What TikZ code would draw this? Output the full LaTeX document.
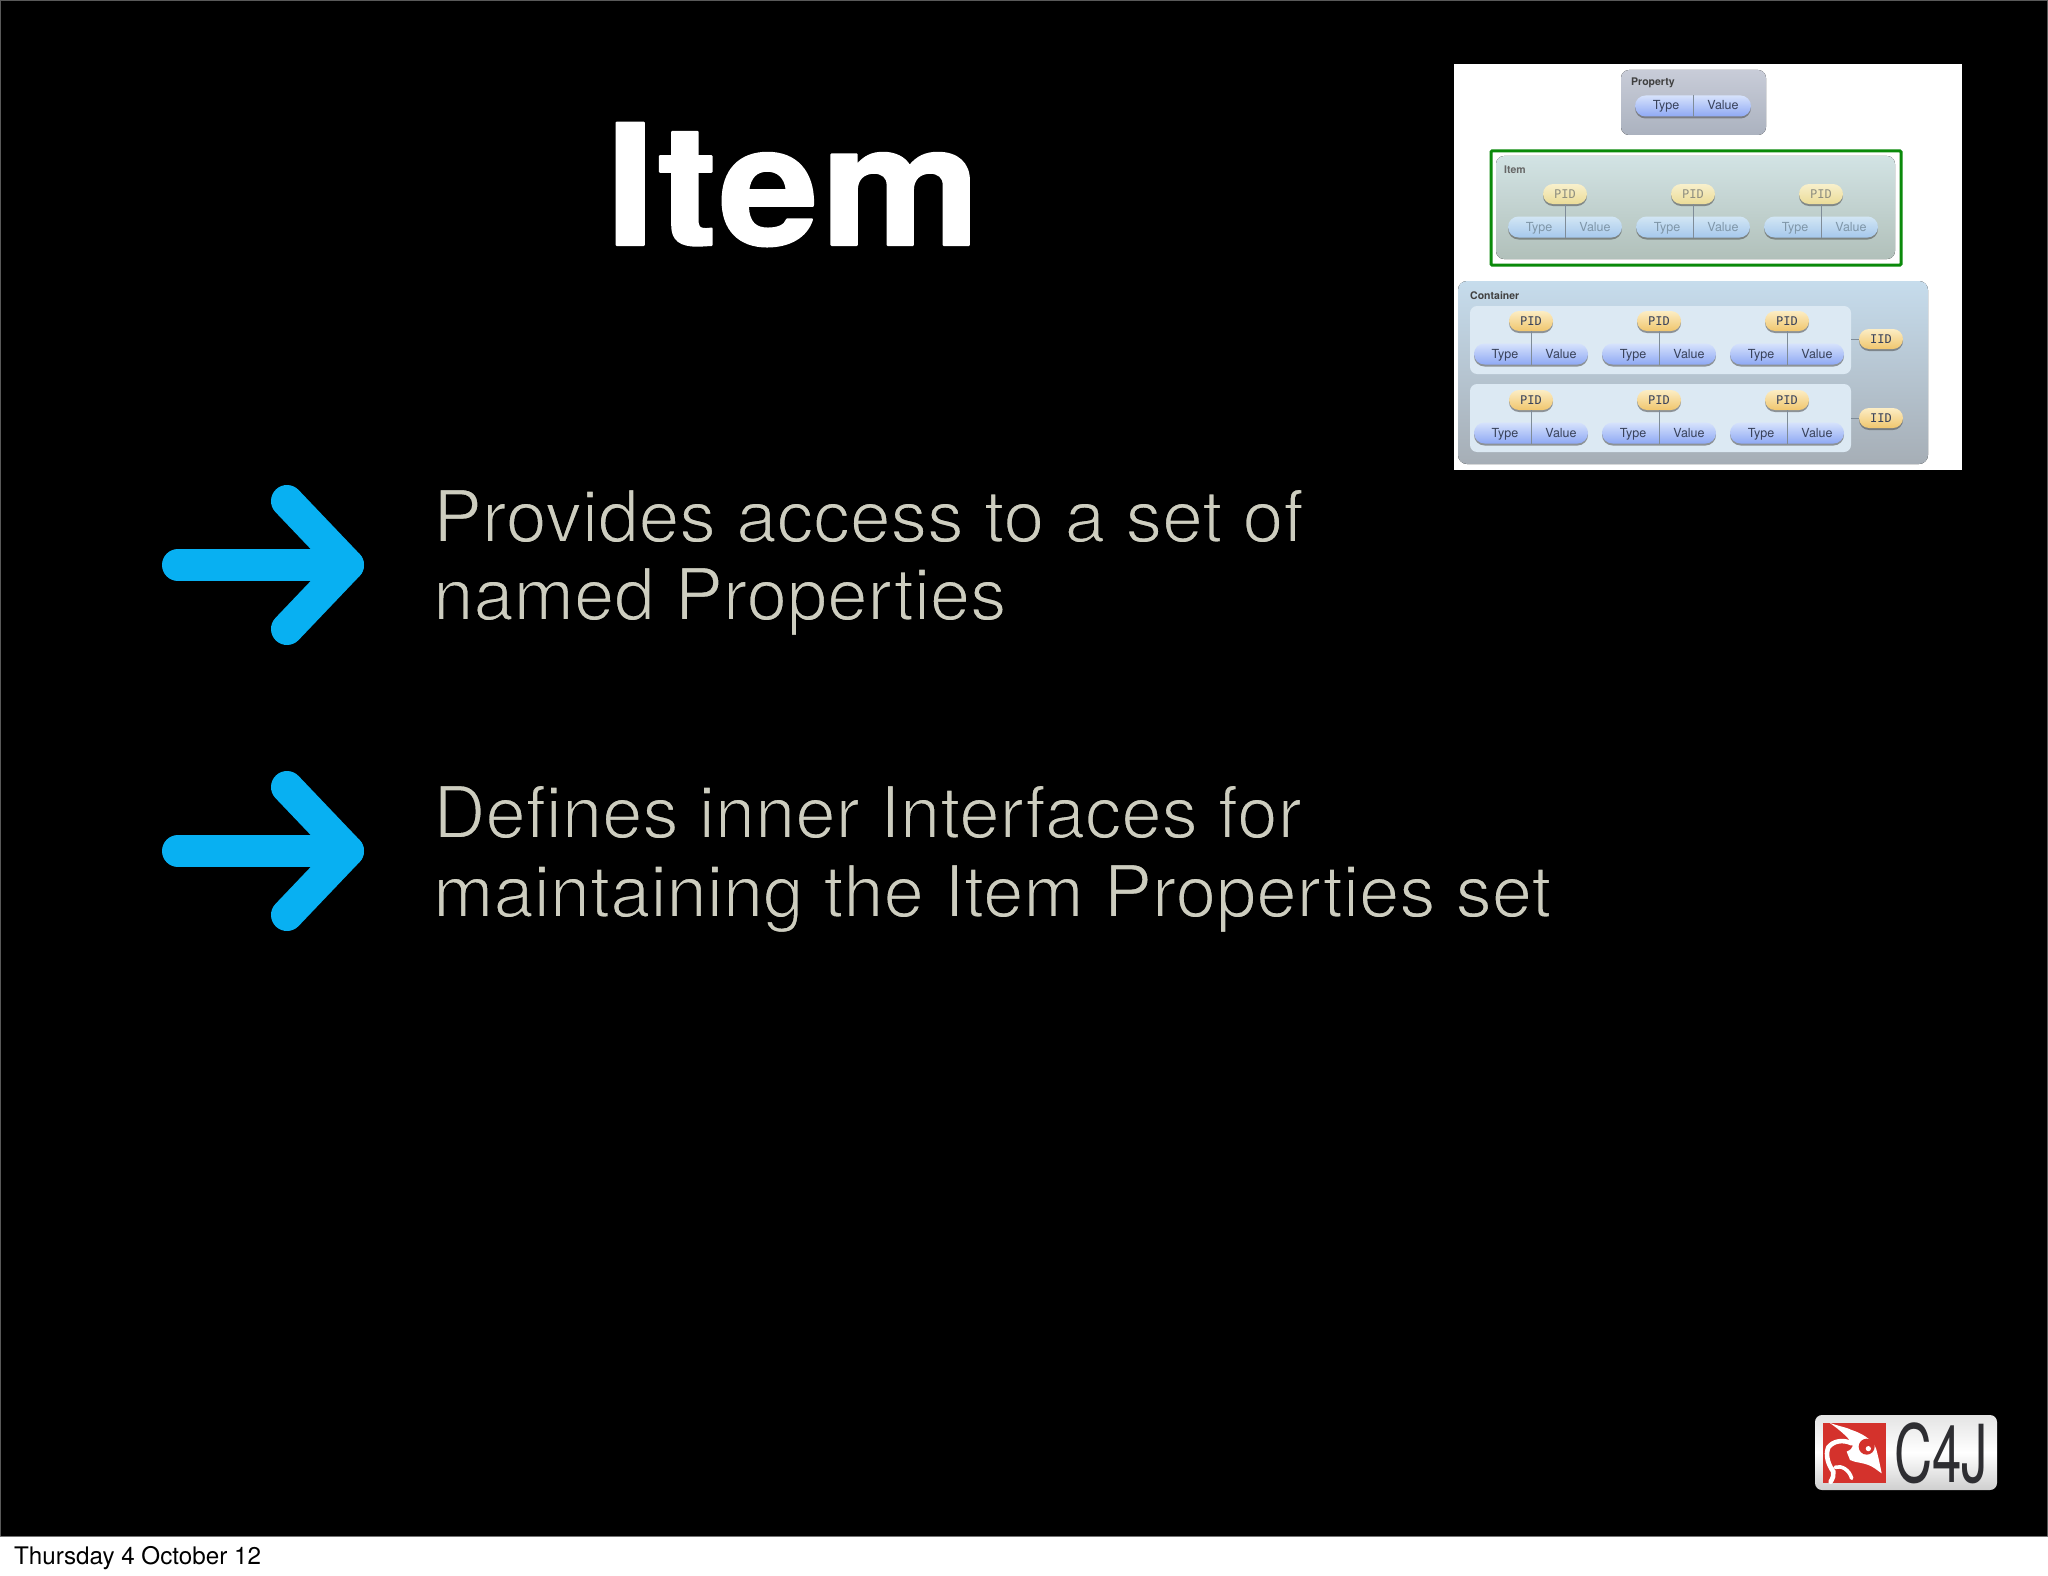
\documentclass[tikz,border=0pt]{standalone}
\usepackage{fontspec}
\setmainfont{TeX Gyre Heros}
\newfontfamily\titlef[LetterSpace=1.2]{TeX Gyre Heros Bold}
\newfontfamily\lightf{TeX Gyre Heros}
\newfontfamily\pidf{DejaVu Sans Mono}
\usetikzlibrary{shapes.misc,shadows}
\newcommand{\thintext}[1]{\special{pdf:code 2 Tr 0 0 0 RG 1.7 w}#1\special{pdf:code 0 Tr}}
\newcommand{\roundtext}[1]{\special{pdf:code 2 Tr 1 1 1 RG 1 j 2 w}#1\special{pdf:code 0 Tr}}
\definecolor{arrowblue}{HTML}{08B0F2}
\definecolor{bodygrey}{HTML}{CDCDBF}
\definecolor{logored}{HTML}{D4322C}
\definecolor{logodark}{HTML}{2E2E32}
\definecolor{framegreen}{HTML}{0A8A0A}
% thumbnail colours
\definecolor{itxt}{HTML}{7F96A8}
\definecolor{ctxt}{HTML}{39425A}
\definecolor{ipidtxt}{HTML}{8F8F80}
\definecolor{ipidt}{HTML}{F8F0CC}
\definecolor{ipidb}{HTML}{EBDC98}
\definecolor{ipilt}{HTML}{D2E6F4}
\definecolor{ipilb}{HTML}{A6C8EC}
\definecolor{cpidt}{HTML}{FCEDC4}
\definecolor{cpidb}{HTML}{F0C66E}
\definecolor{cpilt}{HTML}{D6E2FC}
\definecolor{cpilb}{HTML}{8FA9F4}
\definecolor{lnk}{HTML}{7F8C98}
\definecolor{propt}{HTML}{C8CCD8}
\definecolor{propb}{HTML}{ABB2BF}
\definecolor{itemt}{HTML}{D2E3E4}
\definecolor{itemb}{HTML}{B1C0BA}
\definecolor{contt}{HTML}{C6DCEC}
\definecolor{contb}{HTML}{A6AEB6}
\definecolor{rowfill}{HTML}{DCE9F3}
\definecolor{logotop}{HTML}{E4E4E4}
\definecolor{logobot}{HTML}{CFCFCF}
\tikzset{
  bigarrow/.style={draw=arrowblue,line width=32pt,line cap=round,line join=round},
  bodytext/.style={anchor=base west,inner sep=0pt,text=bodygrey,font=\fontsize{72.4}{78}\selectfont},
  softshadow/.style={drop shadow={shadow xshift=0pt,shadow yshift=-2pt,opacity=.55,fill=#1}},
  pill/.style={rounded rectangle,minimum width=114pt,minimum height=21pt,inner sep=0pt},
  pidpill/.style={rounded rectangle,minimum width=44pt,minimum height=20pt,inner sep=0pt,font=\pidf\fontsize{12}{12}\selectfont},
  thumb/.style={anchor=base,inner sep=0pt,font=\fontsize{12.5}{13}\selectfont,text=#1},
  thumbhead/.style={anchor=west,inner sep=0pt,font=\fontsize{10.5}{11}\bfseries\selectfont,text=black!75},
}
% name, x, y pid, y pill, prefix (i or c), text colour, pid text colour
\newcommand{\triad}[7]{%
  \node[pill,softshadow=black!70,top color=#5pilt,bottom color=#5pilb] (#1v) at (#2,#4) {};
  \node[pidpill,softshadow=black!70,top color=#5pidt,bottom color=#5pidb,text=#7] (#1p) at (#2,#3) {PID};
  \draw[lnk,line width=.9pt] (#1p.south) -- (#1v.south);
  \node[thumb=#6] (#1t) at ([xshift=-26pt,yshift=-4pt]#1v.center) {Type};
  \node[thumb=#6] (#1u) at ([xshift=30pt,yshift=-4pt]#1v.center) {Value};
}
\begin{document}
\begin{tikzpicture}[x=1pt,y=-1pt]
\useasboundingbox (0,0) rectangle (2048,1576);
\fill[white] (0,0) rectangle (2048,1576);
\fill[black] (0,0) rectangle (2048,1536);
\draw[black!55,line width=1.5pt] (0,1536.5) -- (2048,1536.5);
\draw[black!65,line width=1pt] (0.5,1536) -- (0.5,0.5) -- (2047.5,0.5) -- (2047.5,1536);
\node[anchor=base,inner sep=0pt,text=white,font=\titlef\fontsize{168}{170}\selectfont,xscale=1.07] (title) at (793,245) {\roundtext{Item}};
% arrows
\foreach \n/\dy in {a/0,b/286}{
  \coordinate (\n s) at (178,565+\dy);
  \coordinate (\n t) at (348,565+\dy);
  \coordinate (\n u) at (287,501+\dy);
  \coordinate (\n d) at (287,629+\dy);
  \draw[bigarrow] (\n s) -- (\n t);
  \draw[bigarrow] (\n u) -- (\n t) -- (\n d);
}
\node[bodytext,xscale=1.01] (l1) at (433,542) {\lightf\thintext{Provides access to a set of}};
\node[bodytext] (l2) at (433,620) {\lightf\thintext{named Properties}};
\node[bodytext] (l3) at (433,838) {\lightf\thintext{Defines inner Interfaces for}};
\node[bodytext] (l4) at (433,917) {\lightf\thintext{maintaining the Item Properties set}};
% thumbnail
\fill[white] (1454,64) rectangle (1962,470);
\fill[top color=propt,bottom color=propb,rounded corners=8pt] (1621,70) rectangle (1766,135);
\node[thumbhead] (hp) at (1631,83) {Property};
\node[pill,softshadow=black!70,top color=cpilt,bottom color=cpilb,minimum width=116pt] (pv) at (1693,106) {};
\draw[lnk,line width=.9pt] (pv.north) -- (pv.south);
\node[thumb=ctxt] (pt) at (1666,110) {Type};
\node[thumb=ctxt] (pu) at (1723,110) {Value};
% item panel
\fill[top color=itemt,bottom color=itemb,rounded corners=8pt] (1496,156) rectangle (1895,259);
\draw[framegreen,line width=3pt,rounded corners=1pt] (1491,151) rectangle (1901,265);
\node[thumbhead,text=black!60] (hi) at (1504,170) {Item};
\foreach \n/\x in {ia/1565,ib/1693,ic/1821}{
  \triad{\n}{\x}{194}{227}{i}{itxt}{ipidtxt}
}
% container
\fill[top color=contt,bottom color=contb,rounded corners=9pt] (1458,281) rectangle (1928,464);
\node[thumbhead] (hc) at (1470,296) {Container};
\fill[rowfill,rounded corners=7pt] (1470,306) rectangle (1851,374);
\fill[rowfill,rounded corners=7pt] (1470,384) rectangle (1851,452);
\foreach \n/\x in {a/1531,b/1659,c/1787}{
  \triad{r\n}{\x}{321}{354}{c}{ctxt}{ctxt}
  \triad{s\n}{\x}{400}{433}{c}{ctxt}{ctxt}
}
\foreach \n/\y in {a/339,b/418}{
  \coordinate (iidl\n) at (1851,\y);
  \node[pidpill,softshadow=black!70,top color=cpidt,bottom color=cpidb,text=ctxt] (iid\n) at (1881,\y) {IID};
  \draw[lnk,line width=.9pt] (iidl\n) -- (iid\n);
}
% logo
\fill[top color=logotop,bottom color=logobot,middle color=white,rounded corners=7pt] (1815,1415) rectangle (1997,1490);
\fill[logored] (1823,1423) rectangle (1886,1483);
\begin{scope}[shift={(1810,1410)},x=.3333pt,y=-.3333pt]
  \fill[white] (58,38) .. controls (90,50) and (110,52) .. (125,60) .. controls (150,68) and (185,85) .. (198,115) .. controls (205,140) and (210,165) .. (215,190) .. controls (200,180) and (190,170) .. (175,165) .. controls (160,158) and (135,158) .. (120,150) -- (110,125) .. controls (120,120) and (128,115) .. (128,108) .. controls (125,90) and (90,60) .. cycle;
  \draw[white,line width=4.6pt,line cap=round] (125,100) .. controls (100,88) and (70,92) .. (55,112) .. controls (45,135) and (55,165) .. (70,185) .. controls (72,195) and (68,205) .. (62,215);
  \draw[white,line width=3.6pt,line cap=round] (75,172) .. controls (95,165) and (118,180) .. (125,205);
  \fill[logored] (170,110) circle (8pt);
  \fill[white] (175,116) circle (2.6pt);
\end{scope}
\node[inner sep=0pt,text=logodark,font=\fontsize{80}{80}\selectfont,xscale=.66,anchor=center] (c4j) at (1941,1453) {C4J};
\node[anchor=base west,inner sep=0pt,text=black,font=\fontsize{24.2}{26}\selectfont] (date) at (14,1564) {Thursday 4 October 12};
\end{tikzpicture}
\end{document}
